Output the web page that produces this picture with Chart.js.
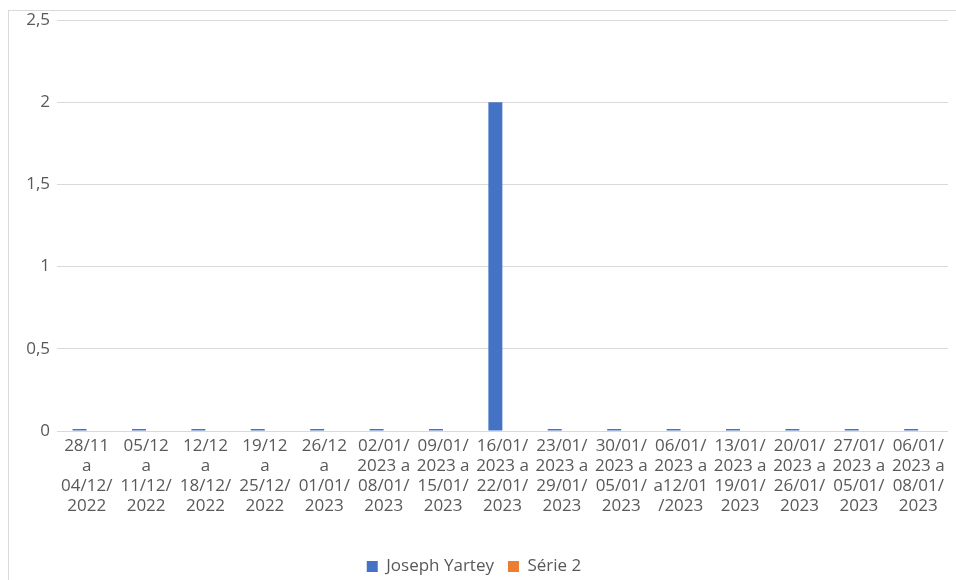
<!DOCTYPE html>
<html>
<head>
<meta charset="utf-8">
<script src="https://cdn.jsdelivr.net/npm/chart.js@4"></script>
<style>
  html, body { margin: 0; padding: 0; background: #fff; overflow: hidden; }
  #frame { position: absolute; left: 8px; top: 10px; width: 960px; height: 600px;
           border-left: 1px solid #d9d9d9; border-top: 1px solid #d9d9d9; }
  #wrap { position: absolute; left: 0; top: 0; width: 956px; height: 585px; }
</style>
</head>
<body>
<div id="frame"></div>
<div id="wrap"><canvas id="chart"></canvas></div>
<script>
// semaines (libellés sur plusieurs lignes comme dans Excel)
const semaines = [
  ["28/11", "a", "04/12/", "2022"],
  ["05/12", "a", "11/12/", "2022"],
  ["12/12", "a", "18/12/", "2022"],
  ["19/12", "a", "25/12/", "2022"],
  ["26/12", "a", "01/01/", "2023"],
  ["02/01/", "2023 a", "08/01/", "2023"],
  ["09/01/", "2023 a", "15/01/", "2023"],
  ["16/01/", "2023 a", "22/01/", "2023"],
  ["23/01/", "2023 a", "29/01/", "2023"],
  ["30/01/", "2023 a", "05/01/", "2023"],
  ["06/01/", "2023 a", "a12/01", "/2023"],
  ["13/01/", "2023 a", "19/01/", "2023"],
  ["20/01/", "2023 a", "26/01/", "2023"],
  ["27/01/", "2023 a", "05/01/", "2023"],
  ["06/01/", "2023 a", "08/01/", "2023"]
];
const josephYartey = [0, 0, 0, 0, 0, 0, 0, 2, 0, 0, 0, 0, 0, 0, 0];
const serie2 = [null, null, null, null, null, null, null, null, null, null, null, null, null, null, null];
const yMax = 2.5;
const yStep = 0.5;

Chart.defaults.font.family = "'Open Sans', sans-serif";
Chart.defaults.font.size = 17;
Chart.defaults.color = "#595959";

new Chart(document.getElementById("chart").getContext("2d"), {
  type: "bar",
  data: {
    labels: semaines,
    datasets: [
      { label: "Joseph Yartey", data: josephYartey, backgroundColor: "#4472C4", minBarLength: 2 },
      { label: "Série 2", data: serie2, backgroundColor: "#ED7D31" }
    ]
  },
  options: {
    responsive: true,
    maintainAspectRatio: false,
    animation: false,
    datasets: { bar: { categoryPercentage: 0.48, barPercentage: 0.98 } },
    layout: { padding: { left: 0, top: 20, right: 8, bottom: 0 } },
    scales: {
      x: {
        grid: { display: false, drawTicks: false },
        border: { display: false },
        ticks: { autoSkip: false, maxRotation: 0, padding: 5, font: { size: 17, lineHeight: 20 / 17 } },
        afterFit: (s) => { s.height = 113; }
      },
      y: {
        min: 0,
        max: yMax,
        grid: { color: "#d9d9d9", drawTicks: false },
        border: { display: false },
        ticks: {
          stepSize: yStep,
          padding: 7,
          callback: (v) => String(v).replace(".", ",")
        },
        afterFit: (s) => { s.width = 57; }
      }
    },
    plugins: {
      legend: {
        position: "bottom",
        labels: { boxWidth: 11, boxHeight: 11, padding: 14 }
      },
      tooltip: { enabled: false }
    }
  }
});
</script>
</body>
</html>
